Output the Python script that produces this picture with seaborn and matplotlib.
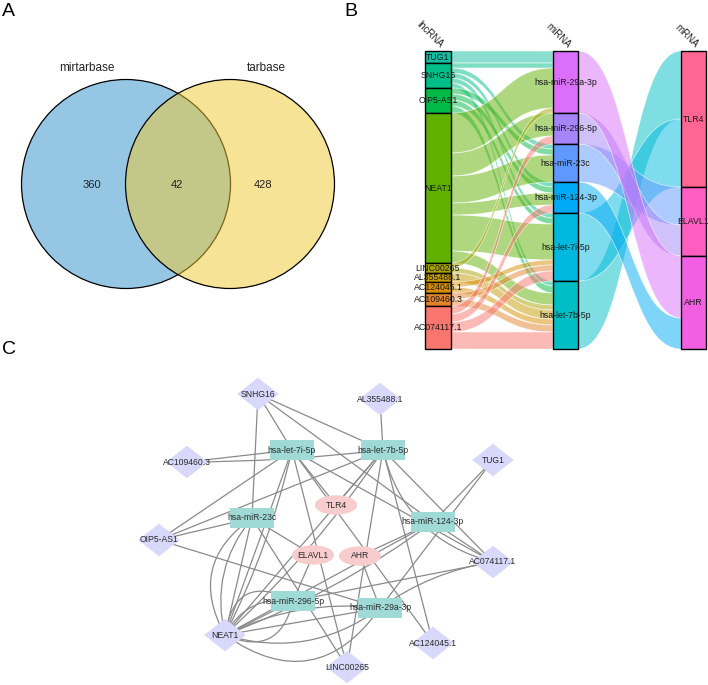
import numpy as np
import pandas as pd
import matplotlib
matplotlib.use("Agg")
import matplotlib.pyplot as plt
from matplotlib.path import Path
from matplotlib.patches import PathPatch, Circle, Rectangle
import seaborn as sns

sns.set_theme(style="white")
plt.rcParams["font.family"] = ["Liberation Sans", "DejaVu Sans"]

# ---------------- Panel A : Venn data ----------------
venn_labels = ["mirtarbase", "tarbase"]
venn_counts = [360, 42, 428]          # only mirtarbase, both, only tarbase
venn_fill = ["#2D91CD", "#F1C92D"]

# ---------------- Panel B : alluvial data ----------------
lnc_names = ["TUG1", "SNHG16", "OIP5-AS1", "NEAT1", "LINC00265",
             "AL355488.1", "AC124045.1", "AC109460.3", "AC074117.1"]
lnc_colors = ["#14BEA0", "#00BE87", "#00B946", "#5FB000", "#A8A300",
              "#C69A00", "#D88E00", "#E4832E", "#F8766D"]
mir_names = ["hsa-miR-29a-3p", "hsa-miR-296-5p", "hsa-miR-23c",
             "hsa-miR-124-3p", "hsa-let-7i-5p", "hsa-let-7b-5p"]
mir_colors = ["#DB6EFA", "#A585F8", "#5F98FF", "#00AAF5", "#00B9DF", "#00BFC4"]
mrna_names = ["TLR4", "ELAVL1", "AHR"]
mrna_colors = ["#FF6693", "#FF5DC0", "#F25FE3"]

flow_src = ["TUG1",
            "SNHG16", "SNHG16", "SNHG16", "SNHG16", "SNHG16",
            "OIP5-AS1", "OIP5-AS1", "OIP5-AS1", "OIP5-AS1",
            "NEAT1", "NEAT1", "NEAT1", "NEAT1", "NEAT1", "NEAT1",
            "LINC00265", "LINC00265",
            "AL355488.1",
            "AC124045.1", "AC124045.1",
            "AC109460.3", "AC109460.3",
            "AC074117.1", "AC074117.1", "AC074117.1", "AC074117.1"]
flow_dst = ["hsa-miR-29a-3p",
            "hsa-miR-29a-3p", "hsa-miR-23c", "hsa-miR-124-3p", "hsa-let-7i-5p", "hsa-let-7b-5p",
            "hsa-miR-23c", "hsa-miR-124-3p", "hsa-let-7i-5p", "hsa-let-7b-5p",
            "hsa-miR-29a-3p", "hsa-miR-296-5p", "hsa-miR-23c", "hsa-miR-124-3p", "hsa-let-7i-5p", "hsa-let-7b-5p",
            "hsa-miR-29a-3p", "hsa-let-7b-5p",
            "hsa-let-7b-5p",
            "hsa-let-7i-5p", "hsa-let-7b-5p",
            "hsa-let-7i-5p", "hsa-let-7b-5p",
            "hsa-miR-296-5p", "hsa-miR-124-3p", "hsa-let-7i-5p", "hsa-let-7b-5p"]
flow_val = [12,
            5, 5, 5, 5, 5,
            6, 6, 6, 7,
            40, 23, 27, 12, 36, 12,
            5, 5,
            9,
            5, 6,
            6, 7,
            8, 8, 10, 17]
mir_to_mrna = ["AHR", "ELAVL1", "ELAVL1", "AHR", "TLR4", "TLR4"]
mrna_stack = [["hsa-let-7b-5p", "hsa-let-7i-5p"],
              ["hsa-miR-23c", "hsa-miR-296-5p"],
              ["hsa-miR-29a-3p", "hsa-miR-124-3p"]]
axis_titles = ["lncRNA", "miRNA", "mRNA"]

# ---------------- Panel C : network data ----------------
net_nodes = ["SNHG16", "AL355488.1", "AC109460.3", "TUG1", "OIP5-AS1", "AC074117.1",
             "NEAT1", "AC124045.1", "LINC00265",
             "hsa-let-7i-5p", "hsa-let-7b-5p", "hsa-miR-23c", "hsa-miR-124-3p",
             "hsa-miR-296-5p", "hsa-miR-29a-3p",
             "TLR4", "ELAVL1", "AHR"]
net_types = ["lnc"] * 9 + ["mir"] * 6 + ["mrna"] * 3
edge_src = ["SNHG16", "SNHG16", "SNHG16", "SNHG16",
            "AL355488.1",
            "AC109460.3", "AC109460.3",
            "TUG1", "TUG1",
            "OIP5-AS1", "OIP5-AS1", "OIP5-AS1", "OIP5-AS1",
            "AC074117.1", "AC074117.1", "AC074117.1", "AC074117.1", "AC074117.1", "AC074117.1",
            "AC124045.1", "AC124045.1",
            "LINC00265", "LINC00265", "LINC00265",
            "NEAT1", "NEAT1", "NEAT1", "NEAT1", "NEAT1", "NEAT1",
            "NEAT1", "NEAT1", "NEAT1", "NEAT1", "NEAT1", "NEAT1",
            "NEAT1", "NEAT1", "NEAT1", "NEAT1", "NEAT1",
            "hsa-let-7i-5p", "hsa-let-7b-5p", "hsa-miR-23c", "hsa-miR-296-5p",
            "hsa-miR-29a-3p", "hsa-miR-124-3p"]
edge_dst = ["hsa-let-7i-5p", "hsa-let-7b-5p", "hsa-miR-23c", "hsa-miR-124-3p",
            "hsa-let-7b-5p",
            "hsa-let-7i-5p", "hsa-let-7b-5p",
            "hsa-miR-124-3p", "hsa-miR-29a-3p",
            "hsa-let-7i-5p", "hsa-let-7b-5p", "hsa-miR-23c", "hsa-miR-29a-3p",
            "hsa-let-7i-5p", "hsa-let-7b-5p", "hsa-let-7b-5p", "hsa-miR-124-3p", "hsa-miR-296-5p", "hsa-miR-29a-3p",
            "hsa-let-7i-5p", "hsa-let-7b-5p",
            "hsa-let-7i-5p", "hsa-let-7b-5p", "hsa-miR-23c",
            "hsa-let-7i-5p", "hsa-let-7i-5p", "hsa-let-7b-5p", "hsa-let-7b-5p",
            "hsa-miR-124-3p", "hsa-miR-124-3p",
            "hsa-miR-23c", "hsa-miR-23c", "hsa-miR-23c",
            "hsa-miR-296-5p", "hsa-miR-296-5p", "hsa-miR-296-5p",
            "hsa-miR-296-5p",
            "hsa-miR-29a-3p", "hsa-miR-29a-3p", "hsa-miR-29a-3p", "hsa-miR-29a-3p",
            "TLR4", "TLR4", "ELAVL1", "ELAVL1", "AHR", "AHR"]
edge_bend = [0, 0, 0, 0,
             0,
             0, 0.03,
             0, 0,
             0, 0, 0, 0,
             0, 0, -0.3, 0, 0, 0.12,
             0, 0,
             0, 0, 0,
             0, 0.06, 0, 0.06,
             0, 0.07,
             0, -0.25, -0.45,
             0, -0.35, -0.7, 0.6,
             0, 0.25, 0.5, -0.15,
             0, 0, 0, 0, 0, 0]

# ---------------- layout (pixel space) ----------------
W, H = 708, 685
fig = plt.figure(figsize=(W / 100, H / 100), dpi=100)
ax = fig.add_axes([0, 0, 1, 1])
ax.set_xlim(0, W)
ax.set_ylim(H, 0)
ax.axis("off")

# panel letters
for lab, (px, py) in zip(["A", "B", "C"], [(2, 3), (344, 3), (2, 341)]):
    ax.text(px, py, lab, fontsize=14, ha="left", va="top", color="black")

# ---------------- Panel A ----------------
venn_cy, venn_r = 184, 104.5
venn_cx = [126, 230]
for cx, col in zip(venn_cx, venn_fill):
    ax.add_patch(Circle((cx, venn_cy), venn_r,
                        facecolor=matplotlib.colors.to_rgba(col, 0.5),
                        edgecolor="black", lw=0.9, zorder=2))
for txt, x in zip(venn_labels, [87, 266]):
    ax.text(x, 68, txt, fontsize=8.5, ha="center", va="center", color="#222222")
for val, x in zip(venn_counts, [92, 177, 263]):
    ax.text(x, 185, str(val), fontsize=8, ha="center", va="center", color="#222222", zorder=3)

# ---------------- Panel B ----------------
y_top, y_bot = 51, 349
col_x = [(425, 451), (553, 578), (681, 706)]
flows = pd.DataFrame({"src": flow_src, "dst": flow_dst, "val": flow_val})
total = flows["val"].sum()
k = (y_bot - y_top) / total

def stack(names, totals):
    pos, y = {}, y_top
    for n in names:
        h = totals[n] * k
        pos[n] = [y, y + h]
        y += h
    return pos

lnc_tot = flows.groupby("src")["val"].sum().to_dict()
mir_tot = flows.groupby("dst")["val"].sum().to_dict()
mrna_tot = {m: 0 for m in mrna_names}
for mi, mr in zip(mir_names, mir_to_mrna):
    mrna_tot[mr] += mir_tot[mi]
lnc_pos = stack(lnc_names, lnc_tot)
mir_pos = stack(mir_names, mir_tot)
mrna_pos = stack(mrna_names, mrna_tot)

def band(x0, y0a, y0b, x1, y1a, y1b, color):
    xm = (x0 + x1) / 2
    verts = [(x0, y0a), (xm, y0a), (xm, y1a), (x1, y1a), (x1, y1b),
             (xm, y1b), (xm, y0b), (x0, y0b), (x0, y0a)]
    codes = [Path.MOVETO, Path.CURVE4, Path.CURVE4, Path.CURVE4, Path.LINETO,
             Path.CURVE4, Path.CURVE4, Path.CURVE4, Path.CLOSEPOLY]
    ax.add_patch(PathPatch(Path(verts, codes),
                           facecolor=matplotlib.colors.to_rgba(color, 0.5),
                           edgecolor=(1, 1, 1, 0.7), lw=0.5, zorder=1))

# lnc -> miRNA flows
flows["si"] = flows["src"].map({n: i for i, n in enumerate(lnc_names)})
flows["di"] = flows["dst"].map({n: i for i, n in enumerate(mir_names)})
src_cursor = {n: lnc_pos[n][0] for n in lnc_names}
dst_cursor = {n: mir_pos[n][0] for n in mir_names}
src_y, dst_y = {}, {}
for idx, r in flows.sort_values(["si", "di"]).iterrows():
    h = r["val"] * k
    src_y[idx] = (src_cursor[r["src"]], src_cursor[r["src"]] + h)
    src_cursor[r["src"]] += h
for idx, r in flows.sort_values(["di", "si"]).iterrows():
    h = r["val"] * k
    dst_y[idx] = (dst_cursor[r["dst"]], dst_cursor[r["dst"]] + h)
    dst_cursor[r["dst"]] += h
lnc_col = dict(zip(lnc_names, lnc_colors))
for idx, r in flows.iterrows():
    band(col_x[0][1], *src_y[idx], col_x[1][0], *dst_y[idx], lnc_col[r["src"]])

# miRNA -> mRNA flows
mir_col = dict(zip(mir_names, mir_colors))
for mr, order in zip(mrna_names, mrna_stack):
    y = mrna_pos[mr][0]
    for mi in order:
        h = mir_tot[mi] * k
        band(col_x[1][1], mir_pos[mi][0], mir_pos[mi][1], col_x[2][0], y, y + h, mir_col[mi])
        y += h

# strata boxes + labels
for names, pos, cols, (xa, xb) in [(lnc_names, lnc_pos, lnc_colors, col_x[0]),
                                   (mir_names, mir_pos, mir_colors, col_x[1]),
                                   (mrna_names, mrna_pos, mrna_colors, col_x[2])]:
    for n, c in zip(names, cols):
        y0, y1 = pos[n]
        ax.add_patch(Rectangle((xa, y0), xb - xa, y1 - y0, facecolor=c,
                               edgecolor="black", lw=1.0, zorder=2))
        ax.text((xa + xb) / 2, (y0 + y1) / 2, n, fontsize=6.3, ha="center",
                va="center", color="#1a1a1a", zorder=3)

for t, (xa, xb) in zip(axis_titles, col_x):
    ax.text((xa + xb) / 2, y_top - 1, t, fontsize=7, rotation=-45,
            rotation_mode="anchor", ha="right", va="bottom", color="#222222")

# ---------------- Panel C ----------------
net_xy = {"SNHG16": (258, 394), "AL355488.1": (380, 399), "AC109460.3": (187, 462),
          "TUG1": (493, 460), "OIP5-AS1": (159, 540), "AC074117.1": (493, 562),
          "NEAT1": (225, 635), "AC124045.1": (433, 643), "LINC00265": (347, 667),
          "hsa-let-7i-5p": (292, 450), "hsa-let-7b-5p": (383, 450),
          "hsa-miR-23c": (252, 518), "hsa-miR-124-3p": (433, 522),
          "hsa-miR-296-5p": (293, 601), "hsa-miR-29a-3p": (380, 608),
          "TLR4": (336, 505), "ELAVL1": (313, 555), "AHR": (360, 556)}

for s, d, b in zip(edge_src, edge_dst, edge_bend):
    p0 = np.array(net_xy[s], float)
    p2 = np.array(net_xy[d], float)
    dv = p2 - p0
    L = np.hypot(*dv)
    perp = np.array([-dv[1], dv[0]]) / L
    p1 = (p0 + p2) / 2 + b * L * perp
    path = Path([p0, p1, p2], [Path.MOVETO, Path.CURVE3, Path.CURVE3])
    ax.add_patch(PathPatch(path, facecolor="none", edgecolor="#8a8a8a", lw=0.9, zorder=2))

nodes = pd.DataFrame({"name": net_nodes, "type": net_types,
                      "x": [net_xy[n][0] for n in net_nodes],
                      "y": [net_xy[n][1] for n in net_nodes]})
diamond = [(0, 0.39), (0.5, 0), (0, -0.39), (-0.5, 0), (0, 0.39)]
rect = [(-0.5, -0.23), (0.5, -0.23), (0.5, 0.23), (-0.5, 0.23), (-0.5, -0.23)]
th = np.linspace(0, 2 * np.pi, 60)
ellipse = list(zip(0.5 * np.cos(th), 0.23 * np.sin(th)))
node_style = {"lnc": (diamond, "#D8D8FA", 900),
              "mir": (rect, "#A0DAD6", 960),
              "mrna": (ellipse, "#F8CCCC", 920)}
for t, (mk, col, sz) in node_style.items():
    sub = nodes[nodes["type"] == t]
    sns.scatterplot(data=sub, x="x", y="y", marker=mk, s=sz, color=col,
                    edgecolor="none", linewidth=0, ax=ax, zorder=4, legend=False)
for n in net_nodes:
    x, y = net_xy[n]
    ax.text(x, y, n, fontsize=6.2, ha="center", va="center", color="#2a2a2a", zorder=5)

ax.set_xlim(0, W)
ax.set_ylim(H, 0)
ax.axis("off")
fig.savefig("out.png", dpi=100)
